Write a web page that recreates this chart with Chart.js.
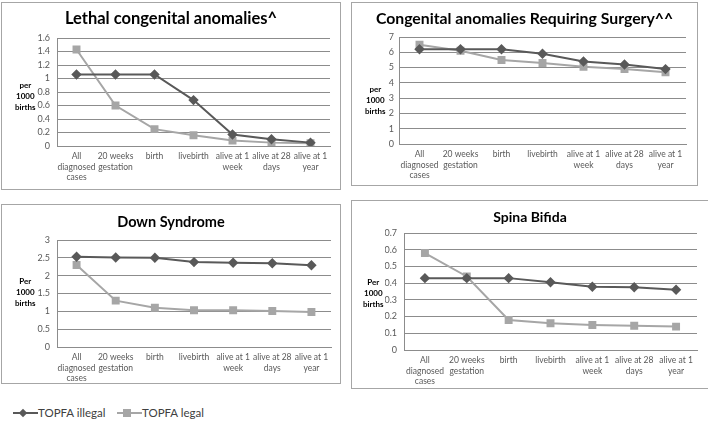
<!DOCTYPE html>
<html lang="en">
<head>
  <meta charset="UTF-8" />
  <title>TOPFA outcomes per 1000 births</title>
  <script src="https://cdn.jsdelivr.net/npm/chart.js"></script>
  <style>
    body {
      margin: 0;
      width: 708px;
      height: 423px;
      background: #fff;
      font-family: 'Lato', sans-serif;
      position: relative;
      overflow: hidden;
    }

    .panel {
      position: absolute;
      box-sizing: border-box;
      border: 1px solid #a6a6a6;
      background: #fff;
    }

    .ptitle {
      position: absolute;
      left: 0;
      right: 0;
      text-align: center;
      font-weight: bold;
      color: #000;
      line-height: 20px;
      white-space: nowrap;
    }

    .ylab {
      position: absolute;
      font-size: 8px;
      font-weight: bold;
      line-height: 11px;
      text-align: center;
      color: #000;
    }

    /* legend pieces */
    .lg-line {
      position: absolute;
      top: 412px;
      width: 25px;
      height: 2px;
    }

    .lg-mark {
      position: absolute;
    }

    .lg-text {
      position: absolute;
      top: 405px;
      font-size: 11.5px;
      line-height: 16px;
      color: #404040;
      white-space: nowrap;
    }
  </style>
</head>
<body>

  <div class="panel" style="left:1px;top:2px;width:340px;height:188px;">
    <canvas id="c1"></canvas>
    <div class="ptitle" style="top:5px;font-size:16.5px;">Lethal congenital anomalies^</div>
  </div>
  <div class="panel" style="left:351px;top:2px;width:347px;height:184px;">
    <canvas id="c2"></canvas>
    <div class="ptitle" style="top:5px;font-size:15.8px;">Congenital anomalies Requiring Surgery^^</div>
  </div>
  <div class="panel" style="left:1px;top:204px;width:340px;height:180px;">
    <canvas id="c3"></canvas>
    <div class="ptitle" style="top:7px;font-size:14.5px;">Down Syndrome</div>
  </div>
  <div class="panel" style="left:351px;top:200px;width:358px;height:189px;">
    <canvas id="c4"></canvas>
    <div class="ptitle" style="top:6px;font-size:14px;">Spina Bifida</div>
  </div>

  <div class="ylab" style="left:15px;top:80px;">per<br>1000<br>births</div>
  <div class="ylab" style="left:365px;top:84px;">per<br>1000<br>births</div>
  <div class="ylab" style="left:15px;top:276px;">Per<br>1000<br>births</div>
  <div class="ylab" style="left:363px;top:277px;">Per<br>1000<br>births</div>

  <!-- legend -->
  <div class="lg-line" style="left:13px;background:#595959;"></div>
  <div class="lg-mark" style="left:20px;top:410px;width:6px;height:6px;background:#595959;transform:rotate(45deg);"></div>
  <div class="lg-text" style="left:38px;">TOPFA illegal</div>
  <div class="lg-line" style="left:117px;background:#a6a6a6;"></div>
  <div class="lg-mark" style="left:123px;top:409px;width:8px;height:8px;background:#a6a6a6;"></div>
  <div class="lg-text" style="left:142px;">TOPFA legal</div>

<script>
// categories shared by all four panels
const stages = [
  ["All", "diagnosed", "cases"],
  ["20 weeks", "gestation"],
  "birth",
  "livebirth",
  ["alive at 1", "week"],
  ["alive at 28", "days"],
  ["alive at 1", "year"]
];

// per 1000 births
const lethalIllegal = [1.06, 1.06, 1.06, 0.68, 0.17, 0.10, 0.05];
const lethalLegal   = [1.43, 0.60, 0.25, 0.16, 0.08, 0.05, 0.04];

const surgeryIllegal = [6.2, 6.2, 6.2, 5.9, 5.4, 5.2, 4.9];
const surgeryLegal   = [6.5, 6.1, 5.5, 5.3, 5.05, 4.9, 4.7];

const downIllegal = [2.53, 2.51, 2.50, 2.38, 2.36, 2.35, 2.29];
const downLegal   = [2.30, 1.30, 1.10, 1.03, 1.03, 1.01, 0.98];

const spinaIllegal = [0.43, 0.43, 0.43, 0.405, 0.378, 0.375, 0.36];
const spinaLegal   = [0.58, 0.44, 0.18, 0.16, 0.15, 0.145, 0.14];

const seriesNames = ["TOPFA illegal", "TOPFA legal"];

const darkGrey = '#595959';
const lightGrey = '#a6a6a6';
const gridGrey = '#8c8c8c';

function panelChart(id, illegal, legal, yMax, yStep, pad, yWidth, yPad, xHeight) {
  return new Chart(document.getElementById(id), {
    type: 'line',
    data: {
      labels: stages,
      datasets: [
        {
          label: seriesNames[0], data: illegal,
          borderColor: darkGrey, backgroundColor: darkGrey, borderWidth: 2,
          pointStyle: 'rectRot', pointRadius: 3.8, pointHoverRadius: 3.8
        },
        {
          label: seriesNames[1], data: legal,
          borderColor: lightGrey, backgroundColor: lightGrey, borderWidth: 2,
          pointStyle: 'rect', pointRadius: 4.2, pointHoverRadius: 4.2
        }
      ]
    },
    options: {
      responsive: true,
      maintainAspectRatio: false,
      animation: false,
      layout: { padding: pad },
      plugins: {
        legend: { display: false },
        tooltip: { enabled: false },
        title: { display: false }
      },
      scales: {
        x: {
          offset: true,
          grid: { display: false, drawTicks: false },
          border: { color: gridGrey },
          ticks: {
            color: darkGrey, maxRotation: 0, autoSkip: false, padding: 5,
            font: { family: 'Lato', size: 8.5, lineHeight: 1.25 }
          },
          afterFit: s => { s.height = xHeight; }
        },
        y: {
          min: 0, max: yMax,
          grid: { color: gridGrey, drawTicks: false },
          border: { color: gridGrey },
          ticks: {
            stepSize: yStep, color: darkGrey, padding: yPad, autoSkip: false,
            font: { family: 'Lato', size: 9 },
            callback: v => String(Number(v.toFixed(2)))
          },
          afterFit: s => { s.width = yWidth; }
        }
      }
    }
  });
}

panelChart('c1', lethalIllegal, lethalLegal, 1.6, 0.2,
  { left: 33, right: 10, top: 35, bottom: 5 }, 22, 7, 38);
panelChart('c2', surgeryIllegal, surgeryLegal, 7, 1,
  { left: 34, right: 11, top: 34, bottom: 3 }, 13, 5, 38);
panelChart('c3', downIllegal, downLegal, 3, 0.5,
  { left: 33, right: 9, top: 35, bottom: 0 }, 22, 7, 36);
panelChart('c4', spinaIllegal, spinaLegal, 0.7, 0.1,
  { left: 33, right: 11, top: 32, bottom: 1 }, 19, 7, 37);
</script>
</body>
</html>
